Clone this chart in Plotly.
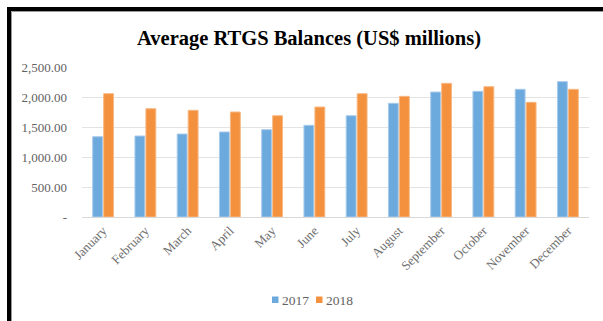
import plotly.graph_objects as go

# Monthly average RTGS balances, US$ millions
months = ["January", "February", "March", "April", "May", "June",
          "July", "August", "September", "October", "November", "December"]
balances_2017 = [1338, 1350, 1383, 1417, 1455, 1528, 1688, 1895, 2083, 2094, 2128, 2256]
balances_2018 = [2055, 1805, 1778, 1750, 1688, 1833, 2055, 2011, 2228, 2172, 1911, 2128]
series_names = ["2017", "2018"]
series_colors = ["#6CAADE", "#F3913E"]
series_edges = ["#A9CBEB", "#F7B985"]

y_ticks = [0, 500, 1000, 1500, 2000, 2500]
y_tick_text = ["-", "500.00", "1,000.00", "1,500.00", "2,000.00", "2,500.00"]

W, H = 603, 321
L, R, T, B = 82, 14, 67, 104
plot_w = W - L - R
plot_h = H - T - B


def px_to_paper_x(px):
    return (px - L) / plot_w


def px_to_paper_y(py):
    return (H - B - py) / plot_h


serif = "Liberation Serif, Times New Roman, serif"
label_grey = "#626262"

fig = go.Figure()
for name, vals, col, edge in zip(series_names, [balances_2017, balances_2018],
                                 series_colors, series_edges):
    fig.add_trace(go.Bar(
        name=name, x=months, y=vals,
        marker=dict(color=col, line=dict(color=edge, width=1)),
    ))

# Black frame along the top and left edges
fig.add_shape(type="rect", xref="paper", yref="paper",
              x0=px_to_paper_x(9), x1=px_to_paper_x(640),
              y0=px_to_paper_y(360), y1=px_to_paper_y(9),
              line=dict(color="black", width=4), fillcolor="rgba(0,0,0,0)",
              layer="above")
fig.add_shape(type="line", xref="paper", yref="paper",
              x0=px_to_paper_x(11.5), x1=px_to_paper_x(11.5),
              y0=px_to_paper_y(360), y1=px_to_paper_y(11.5),
              line=dict(color="#9a9a9a", width=1))
fig.add_shape(type="line", xref="paper", yref="paper",
              x0=px_to_paper_x(11.5), x1=px_to_paper_x(640),
              y0=px_to_paper_y(11.5), y1=px_to_paper_y(11.5),
              line=dict(color="#9a9a9a", width=1))

# Compact legend: small colour swatch followed by the series name
legend_x = [272, 316]
for name, col, lx in zip(series_names, series_colors, legend_x):
    fig.add_shape(type="rect", xref="paper", yref="paper",
                  x0=px_to_paper_x(lx), x1=px_to_paper_x(lx + 6.5),
                  y0=px_to_paper_y(303), y1=px_to_paper_y(296.5),
                  line=dict(width=0), fillcolor=col)
    fig.add_annotation(xref="paper", yref="paper",
                       x=px_to_paper_x(lx + 8), y=px_to_paper_y(300.5),
                       xanchor="left", yanchor="middle", showarrow=False,
                       text=name,
                       font=dict(family=serif, size=13.5, color=label_grey))

fig.update_layout(
    width=W, height=H,
    margin=dict(l=L, r=R, t=T, b=B, pad=0, autoexpand=False),
    paper_bgcolor="white", plot_bgcolor="white",
    barmode="group", bargap=0.48, bargroupgap=0.1,
    title=dict(text="<b>Average RTGS Balances (US$ millions)</b>",
               font=dict(family=serif, size=20.5, color="black"),
               xref="container", yref="container",
               x=309 / W, y=1 - 38 / H, xanchor="center", yanchor="middle"),
    font=dict(family=serif, color=label_grey),
    showlegend=False,
)

fig.update_yaxes(range=[0, 2500], tickvals=y_ticks, ticktext=y_tick_text,
                 showgrid=True, gridcolor="#e3e3e3", gridwidth=1,
                 zeroline=False, showline=False, automargin=False,
                 ticklabelstandoff=14,
                 tickfont=dict(family=serif, size=13, color=label_grey))
fig.update_xaxes(tickangle=-45, showgrid=False, showline=True,
                 linecolor="#d9d9d9", linewidth=1, automargin=False,
                 tickfont=dict(family=serif, size=13, color="#6e6e6e"))

fig.write_html("out.html")
